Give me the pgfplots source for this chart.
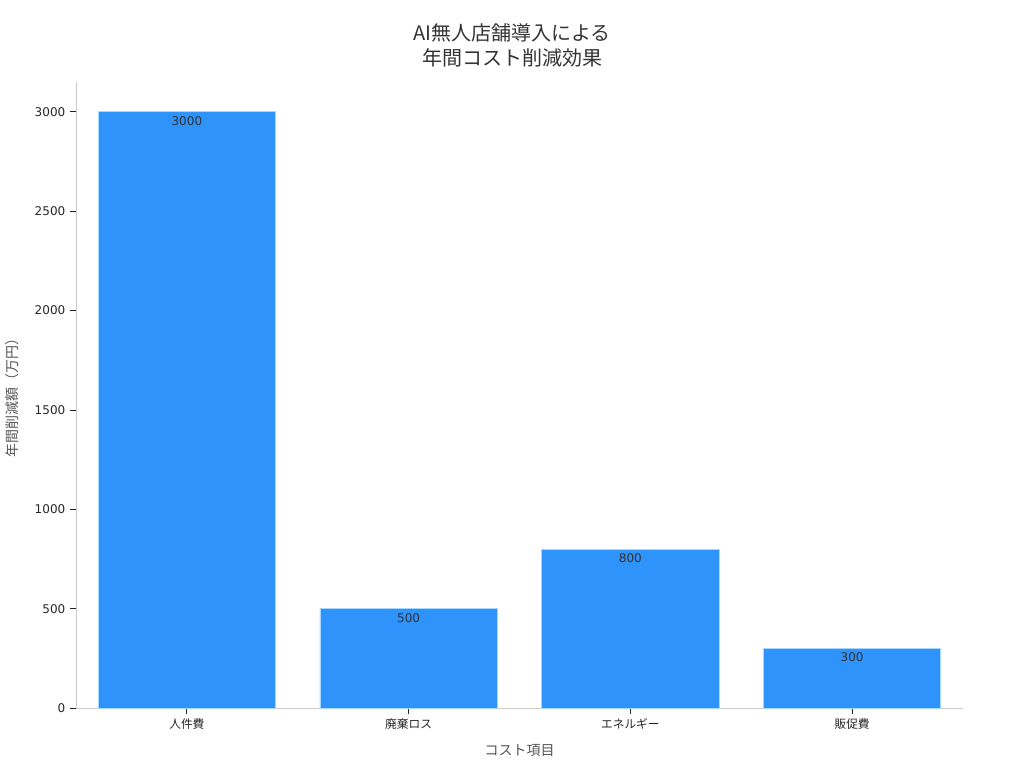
\documentclass[border=0pt]{standalone}
\usepackage{fontspec}
\setmainfont{DejaVu Sans}
\newfontfamily\jp{Noto Sans CJK JP}
\usepackage{pgfplots}
\pgfplotsset{compat=1.18}
\definecolor{barblue}{HTML}{2E93FA}
\definecolor{baredge}{HTML}{A6D8FF}
\definecolor{spine}{HTML}{CCCCCC}
\definecolor{ticktxt}{HTML}{262626}
\definecolor{labtxt}{HTML}{555555}
\definecolor{titletxt}{HTML}{333333}
\begin{document}
\begin{tikzpicture}
\path[use as bounding box] (-57pt,-45pt) rectangle (711pt,531pt);
\begin{axis}[
  at={(0,0)}, anchor=south west,
  scale only axis,
  width=665.25pt, height=469.5pt,
  xmin=-0.5, xmax=3.5, ymin=0, ymax=3150,
  axis x line*=bottom, axis y line*=left,
  axis line style={spine, line width=0.6pt},
  xtick={0,1,2,3},
  xticklabels={人件費,廃棄ロス,エネルギー,販促費},
  xticklabel style={font=\jp\fontsize{8.8}{10}\selectfont, text=ticktxt},
  ytick={0,500,1000,1500,2000,2500,3000},
  yticklabel style={font=\fontsize{9}{10}\selectfont, text=ticktxt},
  /pgf/number format/assume math mode=true,
  /pgf/number format/1000 sep={},
  tick style={ticktxt, line width=0.6pt},
  major tick length=4.5pt,
  tick align=outside,
  xlabel={コスト項目},
  ylabel={年間削減額（万円）},
  xlabel style={font=\jp\fontsize{10.5}{12}\selectfont, text=labtxt, at={(axis description cs:0.5,0)}, anchor=center, yshift=-32pt},
  ylabel style={font=\jp\fontsize{10.5}{12}\selectfont, text=labtxt, at={(axis description cs:0,0.5)}, anchor=center, rotate=0, yshift=48pt},
  ybar, bar width=0.8,
  nodes near coords,
  every node near coord/.append style={font=\fontsize{9}{10}\selectfont, text=titletxt, anchor=center, yshift=-6.75pt},
  clip=false,
]
\addplot[fill=barblue, draw=baredge, line width=0.5pt] coordinates {(0,3000) (1,500) (2,800) (3,300)};
\end{axis}
\node[font=\jp\fontsize{15}{18.75}\selectfont, text=titletxt, align=center] at (327pt,497pt) {AI無人店舗導入による\\年間コスト削減効果};
\end{tikzpicture}
\end{document}
